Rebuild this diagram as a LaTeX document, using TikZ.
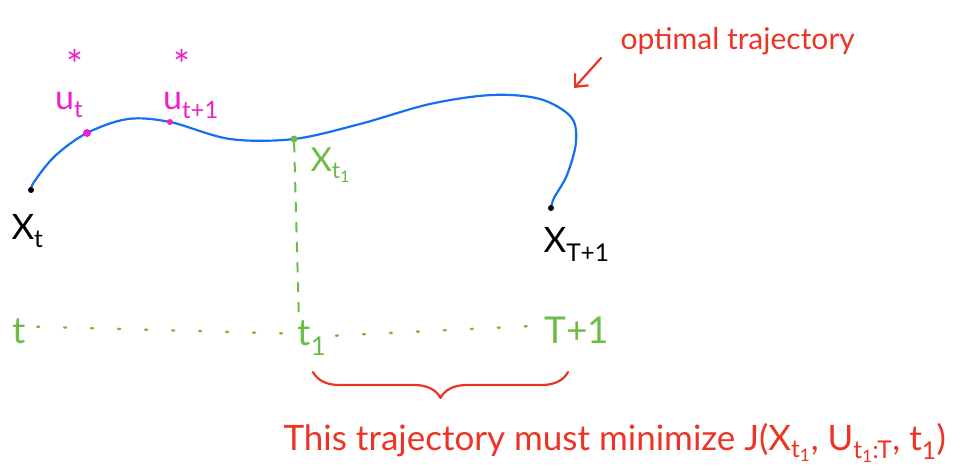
\documentclass[tikz,border=0pt]{standalone}
\usepackage{fontspec}
\setmainfont{Lato}
\usetikzlibrary{decorations.pathreplacing,arrows.meta}
\definecolor{cblue}{RGB}{20,112,240}
\definecolor{cmag}{RGB}{238,30,200}
\definecolor{cgreen}{RGB}{108,188,70}
\definecolor{cred}{RGB}{236,52,36}
\begin{document}
\begin{tikzpicture}[x=1pt,y=-1pt,
  curve/.style={draw=cblue,line width=2.2pt,line cap=round,line join=round},
  dotmark/.style={circle,inner sep=0pt,minimum size=#1},
  blk/.style={font=\fontsize{35}{35}\selectfont,text=black},
  mag/.style={font=\fontsize{34}{34}\selectfont,text=cmag,inner sep=0pt},
  starmark/.style={font=\fontsize{40}{40}\selectfont,text=cmag,inner sep=0pt},
  grn/.style={font=\fontsize{33}{33}\selectfont,text=cgreen},
  tax/.style={font=\fontsize{37}{37}\selectfont,text=cgreen},
  rtext/.style={font=\fontsize{35}{35}\selectfont,text=cred},
  otext/.style={font=\fontsize{30}{30}\selectfont,text=cred},
  gdash/.style={draw=cgreen,line width=2pt,line cap=round,dash pattern=on 9pt off 11pt},
  gdot/.style={draw=cgreen,line width=2.4pt,line cap=round,dash pattern=on 2pt off 25pt},
  rline/.style={draw=cred,line width=2.2pt,line cap=round,line join=round}]
\useasboundingbox (0,0) rectangle (960,470);
% key points on the trajectory
\coordinate (p0) at (31,190);
\coordinate (pu) at (87,133);
\coordinate (pv) at (170,122);
\coordinate (pm) at (294,139);
\coordinate (pe) at (551,208);
\draw[curve] plot[smooth,tension=0.55] coordinates {(p0) (34,182) (55,156) (pu) (128,119) (pv) (230,139) (pm) (360,124) (430,104) (492,95) (540,99) (571,117) (576,142) (567,175) (554,198) (pe)};
\node[dotmark=6pt,fill=black] (start) at (p0) {};
\node[dotmark=6pt,fill=black] (end) at (pe) {};
\node[dotmark=8pt,fill=cmag] (du) at (pu) {};
\node[dotmark=6pt,fill=cmag] (dv) at (pv) {};
\node[dotmark=7pt,fill=cgreen] (dm) at (pm) {};
% labels
\node[blk,anchor=base west] (lxt) at (8,240) {X\textsubscript{t}};
\node[blk,anchor=base west] (lxT) at (540,252) {X\textsubscript{T+1}};
\node[mag,anchor=base west] (lut) at (55,110) {u\textsubscript{t}};
\node[mag,anchor=base west] (lut1) at (163,110) {u\textsubscript{t+1}};
\node[starmark] (s1) at (75,64) {*};
\node[starmark] (s2) at (182,64) {*};
\node[grn,anchor=base west] (lxt1) at (307,172) {X\textsubscript{t\textsubscript{1}}};
% time axis
\node[tax,anchor=base] (tt) at (19,343) {t};
\node[tax,anchor=base] (tt1) at (312,345) {t\textsubscript{1}};
\node[tax,anchor=base] (tT) at (577,343) {T+1};
\draw[gdash] (dm) -- (299,322);
\draw[gdot] ([xshift=8pt,yshift=4pt]tt.east) -- ([xshift=-4pt,yshift=4pt]tt1.west);
\draw[gdot] ([xshift=6pt,yshift=2pt]tt1.east) -- ([xshift=-4pt,yshift=4pt]tT.west);
% brace
\coordinate (bl) at (313,372);
\coordinate (br) at (568,372);
\draw[rline,decorate,decoration={brace,mirror,amplitude=26pt}] (bl) -- (br);
\node[rtext,anchor=base west] (cost) at (280,450) {This trajectory must minimize J(X\textsubscript{t\textsubscript{1}}, U\textsubscript{t\textsubscript{1}:T}, t\textsubscript{1})};
% optimal trajectory note
\node[otext,anchor=base west] (opt) at (617,50) {optimal trajectory};
\coordinate (ah) at (574,88);
\draw[rline,-{Straight Barb[length=10pt,width=18pt]}] (601,58) -- (ah);
\end{tikzpicture}
\end{document}
